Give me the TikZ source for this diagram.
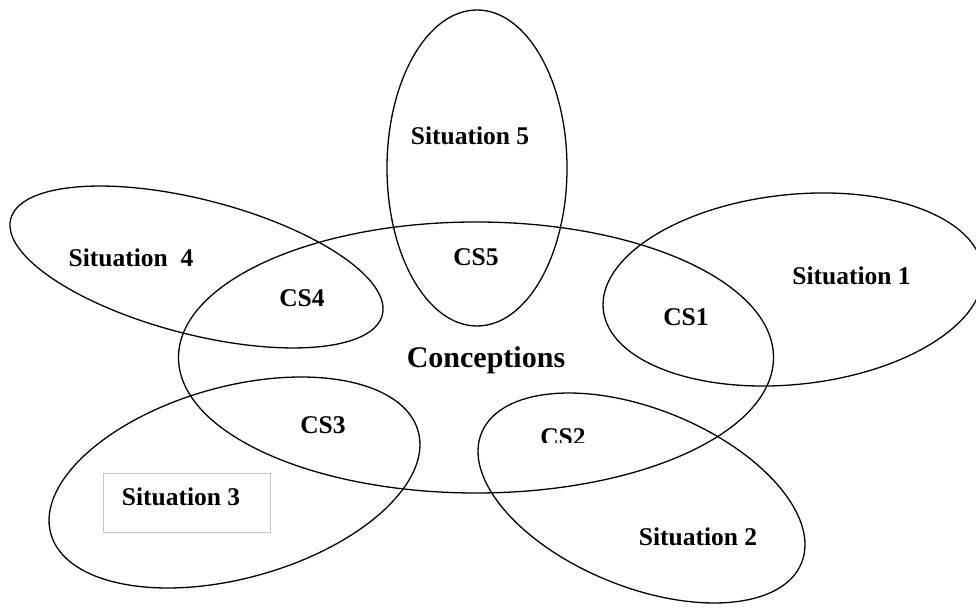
\documentclass[tikz,border=0pt]{standalone}
\usepackage{fontspec}
\setmainfont{Liberation Serif}
\usepackage{tikz}
\usetikzlibrary{shapes.geometric}
\tikzstyle{situation}=[draw, ellipse, line width=1.3pt, inner sep=0, outer sep=0]
\tikzstyle{sitlabel}=[inner sep=0, font=\bfseries\fontsize{25.5}{30}\selectfont, text height=17pt, text depth=0pt]
\tikzstyle{bigsitlabel}=[sitlabel, font=\bfseries\fontsize{30}{36}\selectfont, text height=19.5pt]
\tikzstyle{framebox}=[draw=black!22, line width=0.8pt, inner sep=0]

\begin{document}
\begin{tikzpicture}[x=1pt, y=1pt]
    \useasboundingbox (0, 0) rectangle (976, 607);
    \clip (0, 0) rectangle (976, 607);
    % the five situations round the conceptions
    \node[situation, minimum width=595pt, minimum height=271pt]              (concepts) at (476, 249.5) {};
    \node[situation, minimum width=180pt, minimum height=316pt]              (sit5) at (477, 439) {};
    \node[situation, minimum width=381.6pt, minimum height=189.8pt, rotate=6.1]   (sit1) at (793, 317.5) {};
    \node[situation, minimum width=383.8pt, minimum height=134.6pt, rotate=-14.5] (sit4) at (196.5, 340) {};
    \node[situation, minimum width=381.4pt, minimum height=191.4pt, rotate=15.6]  (sit3) at (234.5, 124.5) {};
    \node[situation, minimum width=345.4pt, minimum height=178pt, rotate=-22.1]   (sit2) at (641.5, 109) {};
    \node[framebox, minimum width=167pt, minimum height=59pt] (sit3box) at (186.5, 104.5) {};
    % labels
    \node[bigsitlabel] (conceptions) at (486, 249) {Conceptions};
    \node[sitlabel] (sit5text) at (470, 471) {Situation 5};
    \node[sitlabel] (cs5) at (476, 350) {CS5};
    \node[sitlabel] (sit4text) at (131, 349) {Situation\ \ 4};
    \node[sitlabel] (cs4) at (302, 309) {CS4};
    \node[sitlabel] (sit1text) at (851.5, 331) {Situation 1};
    \node[sitlabel] (cs1) at (686, 289.5) {CS1};
    \node[sitlabel] (cs3) at (323, 181.5) {CS3};
    \node[sitlabel] (sit3text) at (181, 110) {Situation 3};
    \node[sitlabel] (sit2text) at (698, 70) {Situation 2};
    \begin{scope}
        \clip (500, 164) rectangle (630, 200);
        \node[sitlabel] (cs2) at (563, 170) {CS2};
    \end{scope}
\end{tikzpicture}
\end{document}
